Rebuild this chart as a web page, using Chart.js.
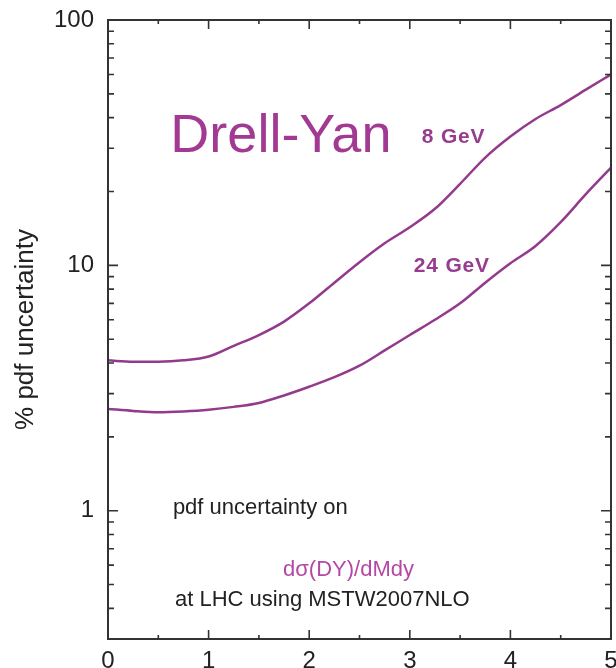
<!DOCTYPE html>
<html>
<head>
<meta charset="utf-8">
<script src="https://cdn.jsdelivr.net/npm/chart.js@4.4.1/dist/chart.umd.min.js"></script>
<style>
  html, body { margin: 0; padding: 0; background: #ffffff; }
  #wrap { width: 616px; height: 668px; position: relative; }
</style>
</head>
<body>
<div id="wrap"><canvas id="c" width="616" height="668"></canvas></div>
<script>
// Rapidity values (x axis)
const rapidity = [0, 0.25, 0.5, 0.75, 1.0, 1.25, 1.5, 1.75, 2.0, 2.25, 2.5, 2.75,
                  3.0, 3.25, 3.5, 3.75, 4.0, 4.25, 4.5, 4.75, 5.0];

// % pdf uncertainty, M = 8 GeV
const unc8GeV = [4.1, 4.05, 4.05, 4.1, 4.25, 4.7, 5.2, 5.9, 7.0, 8.5, 10.3, 12.3,
                 14.3, 17.0, 21.5, 27.5, 33.5, 39.5, 45.0, 52.0, 60.0];

// % pdf uncertainty, M = 24 GeV
const unc24GeV = [2.6, 2.55, 2.52, 2.54, 2.58, 2.65, 2.75, 2.95, 3.2, 3.5, 3.9, 4.5,
                  5.2, 6.0, 7.0, 8.5, 10.2, 12.0, 15.0, 19.5, 25.0];

// Axis tick labels
const xTickValues = [0, 1, 2, 3, 4, 5];
const yTickValues = [1, 10, 100];

const curveColor = '#933a8c';
const axisColor = '#333333';
const FONT = '"Liberation Sans", Arial, Helvetica, sans-serif';

const toPoints = (ys) => rapidity.map((x, i) => ({ x: x, y: ys[i] }));

// Text placed inside the frame, positioned in data coordinates
const notes = [
  { text: 'Drell-Yan', x: 0.62, y: 29.1, size: 54, weight: 'normal', color: '#a23a94', spacing: 0 },
  { text: '8 GeV', x: 3.12, y: 31.6, size: 21, weight: 'bold', color: '#973c8e', spacing: 0.8 },
  { text: '24 GeV', x: 3.04, y: 9.36, size: 21, weight: 'bold', color: '#973c8e', spacing: 0.8 },
  { text: 'pdf uncertainty on', x: 0.645, y: 0.972, size: 22, weight: 'normal', color: '#222222', spacing: 0 },
  { text: 'd\u03c3(DY)/dMdy', x: 1.74, y: 0.544, size: 22, weight: 'normal', color: '#b348a6', spacing: 0 },
  { text: 'at LHC using MSTW2007NLO', x: 0.666, y: 0.407, size: 22, weight: 'normal', color: '#222222', spacing: 0 }
];

// Frame with inward ticks on all four sides, plus the text notes
const framePlugin = {
  id: 'frame',
  afterDatasetsDraw(chart) {
    const { ctx, chartArea: a, scales } = chart;
    const xs = scales.x, ys = scales.y;
    ctx.save();
    ctx.strokeStyle = axisColor;
    ctx.lineWidth = 2;
    ctx.strokeRect(a.left, a.top, a.right - a.left, a.bottom - a.top);

    ctx.lineWidth = 1.6;
    ctx.beginPath();
    // x ticks: major every 1, minor every 0.5
    for (let v = 0; v <= 5.0001; v += 0.5) {
      const px = xs.getPixelForValue(v);
      const len = Math.abs(v - Math.round(v)) < 1e-6 ? 9 : 4;
      ctx.moveTo(px, a.bottom); ctx.lineTo(px, a.bottom - len);
      ctx.moveTo(px, a.top); ctx.lineTo(px, a.top + len);
    }
    // y ticks: decades major, 2..9 minor
    for (let d = -1; d <= 2; d++) {
      for (let m = 1; m <= 9; m++) {
        const v = m * Math.pow(10, d);
        if (v < ys.min - 1e-9 || v > ys.max + 1e-9) continue;
        const py = ys.getPixelForValue(v);
        const len = m === 1 ? 10 : 6;
        ctx.moveTo(a.left, py); ctx.lineTo(a.left + len, py);
        ctx.moveTo(a.right, py); ctx.lineTo(a.right - len, py);
      }
    }
    ctx.stroke();

    ctx.textBaseline = 'alphabetic';
    ctx.textAlign = 'left';
    notes.forEach(n => {
      ctx.font = `${n.weight} ${n.size}px ${FONT}`;
      ctx.fillStyle = n.color;
      ctx.letterSpacing = n.spacing + 'px';
      ctx.fillText(n.text, xs.getPixelForValue(n.x), ys.getPixelForValue(n.y));
    });
    ctx.restore();
  }
};

new Chart(document.getElementById('c'), {
  type: 'line',
  data: {
    datasets: [
      { label: '8 GeV', data: toPoints(unc8GeV), borderColor: curveColor, borderWidth: 2.5,
        pointRadius: 0, fill: false, cubicInterpolationMode: 'monotone' },
      { label: '24 GeV', data: toPoints(unc24GeV), borderColor: curveColor, borderWidth: 2.5,
        pointRadius: 0, fill: false, cubicInterpolationMode: 'monotone' }
    ]
  },
  options: {
    responsive: false,
    animation: false,
    devicePixelRatio: 1,
    layout: { padding: { left: 0, right: 5, top: 20, bottom: 0 } },
    plugins: { legend: { display: false }, tooltip: { enabled: false } },
    scales: {
      x: {
        type: 'linear', min: 0, max: 5,
        grid: { display: false, drawTicks: false },
        border: { display: false },
        afterBuildTicks: (s) => { s.ticks = xTickValues.map(v => ({ value: v })); },
        afterFit: (s) => { s.height = 29; s.paddingLeft = 0; s.paddingRight = 0; },
        ticks: { color: '#222222', padding: 8, maxRotation: 0,
                 font: { family: FONT, size: 24 }, callback: (v) => String(v) }
      },
      y: {
        type: 'logarithmic', min: 0.3, max: 100,
        grid: { display: false, drawTicks: false },
        border: { display: false },
        afterBuildTicks: (s) => { s.ticks = yTickValues.map(v => ({ value: v })); },
        afterFit: (s) => { s.width = 108; s.paddingTop = 0; s.paddingBottom = 0; },
        ticks: { color: '#222222', padding: 14,
                 font: { family: FONT, size: 24 }, callback: (v) => String(v) },
        title: { display: true, text: '% pdf uncertainty', color: '#222222',
                 font: { family: FONT, size: 26 }, padding: { top: 10, bottom: 0 } }
      }
    }
  },
  plugins: [framePlugin]
});
</script>
</body>
</html>
